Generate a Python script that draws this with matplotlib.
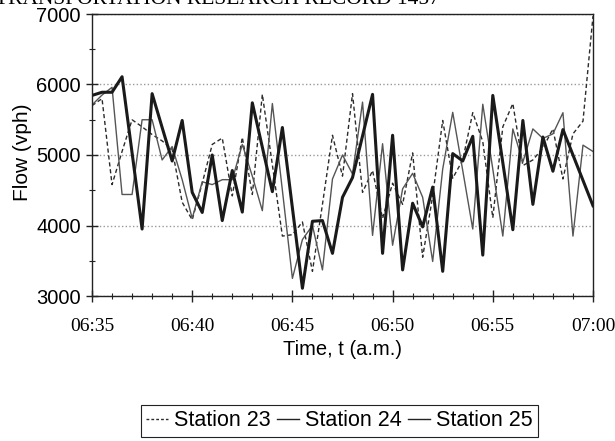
import matplotlib.pyplot as plt
import numpy as np
from matplotlib.lines import Line2D

# 30-second samples, minutes after 06:35
minutes = np.arange(0, 25.5, 0.5)

station23 = [5700, 5800, 4580, 5050, 5500, 5400, 5290, 5200, 5080, 4330,
             4080, 4600, 5150, 5240, 4420, 5250, 4440, 5860, 4860, 3850,
             3870, 4050, 3350, 4300, 5280, 4700, 5870, 4470, 4780, 4100,
             4600, 4300, 5030, 3550, 4420, 5490, 4670, 4930, 5600, 5190,
             4110, 5400, 5730, 4850, 4930, 5100, 5370, 4660, 5300, 5480,
             6970]
station24 = [5710, 5850, 5960, 4440, 4440, 5500, 5500, 4930, 5120, 4650,
             4100, 4620, 4580, 4650, 4650, 5150, 4700, 4210, 5730, 4500,
             3250, 3800, 4000, 3370, 4660, 5000, 4730, 5750, 3860, 5160,
             3720, 4520, 4740, 4400, 3490, 4800, 5605, 4780, 3950, 5720,
             4800, 3850, 5370, 4900, 5370, 5235, 5300, 5600, 3850, 5140,
             5050]
station25 = [5845, 5890, 5890, 6110, 5030, 3950, 5870, 5390, 4915, 5490,
             4470, 4185, 5000, 4070, 4780, 4190, 5740, 5110, 4480, 5390,
             4250, 3110, 4060, 4070, 3605, 4400, 4680, 5270, 5860, 3605,
             5280, 3370, 4316, 3980, 4545, 3350, 5020, 4915, 5265, 3580,
             5845, 4890, 3940, 5490, 4300, 5255, 4770, 5360, 5000, 4640,
             4280]

time_labels = ["06:35", "06:40", "06:45", "06:50", "06:55", "07:00"]
flow_ticks = [3000, 4000, 5000, 6000, 7000]
series_names = ["Station 23", "Station 24", "Station 25"]

W, H = 615, 441
fig = plt.figure(figsize=(W / 100, H / 100), dpi=100)
ax = fig.add_axes([92 / W, 1 - 296 / H, (593 - 92) / W, (296 - 14) / H])

ax.plot(minutes, station23, color="#2b2b2b", lw=1.0, ls=(0, (3, 2)))
ax.plot(minutes, station24, color="#555555", lw=1.0)
ax.plot(minutes, station25, color="#1a1a1a", lw=2.2)

ax.set_xlim(0, 25)
ax.set_ylim(3000, 7000)
ax.set_xticks(np.arange(0, 26, 5))
ax.set_xticklabels(time_labels, fontfamily="Liberation Serif", fontsize=14)
ax.set_xticks(np.arange(0, 26, 1), minor=True)
ax.set_yticks(flow_ticks)
ax.set_yticklabels([str(v) for v in flow_ticks], fontfamily="Liberation Sans", fontsize=14.5)
ax.set_yticks(np.arange(3500, 7000, 1000), minor=True)
ax.yaxis.grid(True, which="major", linestyle=":", color="#999999", lw=1)

ax.tick_params(which="both", direction="inout", color="#222222")
ax.tick_params(which="major", length=8, width=1)
ax.tick_params(which="minor", length=5, width=0.8)
ax.tick_params(axis="x", which="major", pad=12)
ax.tick_params(axis="y", which="major", pad=4)
for s in ax.spines.values():
    s.set_color("#222222")
    s.set_linewidth(1.0)

ax.set_xlabel("Time, t (a.m.)", fontfamily="Liberation Sans", fontsize=14.5)
ax.xaxis.set_label_coords(0.5, -0.155)
ax.set_ylabel("Flow (vph)", fontfamily="Liberation Sans", fontsize=15)
ax.yaxis.set_label_coords(-0.12, 0.51)

# legend drawn with thin proxies like the scanned original
handles = [Line2D([], [], color="#2b2b2b", lw=1.0, ls=(0, (2, 1.5))),
           Line2D([], [], color="#222222", lw=1.0),
           Line2D([], [], color="#222222", lw=1.0)]
leg = fig.legend(handles, series_names, loc="center", bbox_to_anchor=(339.5 / W, 1 - 421 / H),
                 ncol=3, frameon=True, fancybox=False, edgecolor="#222222", framealpha=1,
                 prop={"family": "Liberation Sans", "size": 15.5},
                 handlelength=1.0, handletextpad=0.3, columnspacing=0.3, borderpad=0.25)
leg.get_frame().set_linewidth(0.8)

# page header, mostly cut off by the scan
fig.text(440 / W, 1 - 4.5 / H, "TRANSPORTATION RESEARCH RECORD 1457", ha="right", va="baseline",
         fontfamily="Liberation Serif", fontsize=15.5)

fig.savefig("out.png", dpi=100)
